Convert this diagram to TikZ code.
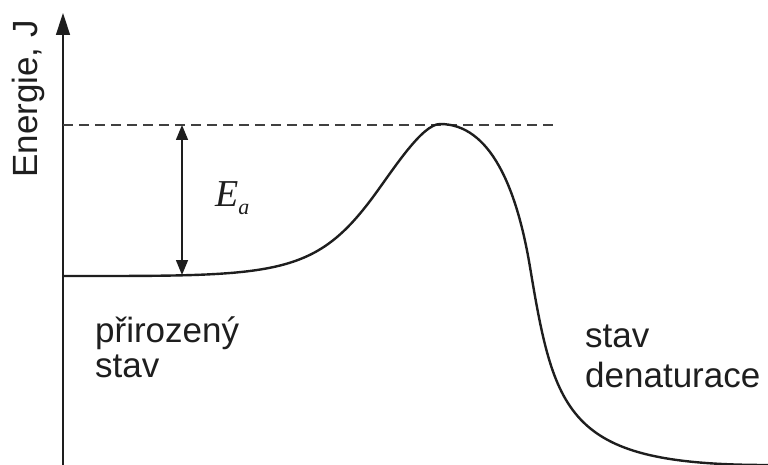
\documentclass[tikz,border=0pt]{standalone}
\usepackage{fontspec}
\setmainfont{Liberation Sans}
\newfontfamily\serifit{Liberation Serif}
\usetikzlibrary{arrows.meta}
\definecolor{ink}{HTML}{1E1E1E}
\begin{document}
\begin{tikzpicture}[x=1pt,y=-1pt,
  lbl/.style={inner sep=0pt,anchor=base west,text=ink,font=\fontsize{35}{40}\selectfont},
  axisline/.style={draw=ink,line width=1.5pt},
  curveline/.style={draw=ink,line width=2.4pt},
  refline/.style={draw=ink!85,line width=1.5pt,dash pattern=on 10pt off 6pt}]
\useasboundingbox (0,0) rectangle (768,465);
% axis
\coordinate (ax0) at (63,465);
\coordinate (ax1) at (63,13);
\draw[axisline,-{Triangle[width=14pt,length=22pt]}] (ax0) -- (ax1);
\node[lbl,rotate=90] (ylab) at (37,178) {Energie, J};
% dashed reference line
\coordinate (d0) at (63,125);
\coordinate (d1) at (555,125);
\draw[refline] (d0) -- (d1);
% activation energy arrow
\coordinate (ea0) at (182,125);
\coordinate (ea1) at (182,275);
\draw[axisline,{Triangle[width=12pt,length=15pt]}-{Triangle[width=12pt,length=15pt]}] (ea0) -- (ea1);
\node[inner sep=0pt,anchor=base west,text=ink] (ea) at (215,207)
  {\fontsize{38}{40}\selectfont\serifit\itshape E\raisebox{-8pt}{\fontsize{22}{22}\selectfont a}};
% energy curve
\coordinate (c0) at (63,276);
\coordinate (c1) at (373,197);
\coordinate (c2) at (440,124);
\coordinate (c3) at (530,267);
\coordinate (c4) at (768,465);
\draw[curveline] (c0) .. controls (273,276) and (313,278) .. (c1)
  .. controls (393,170) and (422,124) .. (c2)
  .. controls (490,124) and (516.6,187) .. (c3)
  .. controls (555,417) and (568,465) .. (c4);
% labels
\node[lbl] (n1) at (95,342) {přirozený};
\node[lbl] (n2) at (95,377) {stav};
\node[lbl] (d1l) at (585,347) {stav};
\node[lbl] (d2l) at (585,387) {denaturace};
\end{tikzpicture}
\end{document}
